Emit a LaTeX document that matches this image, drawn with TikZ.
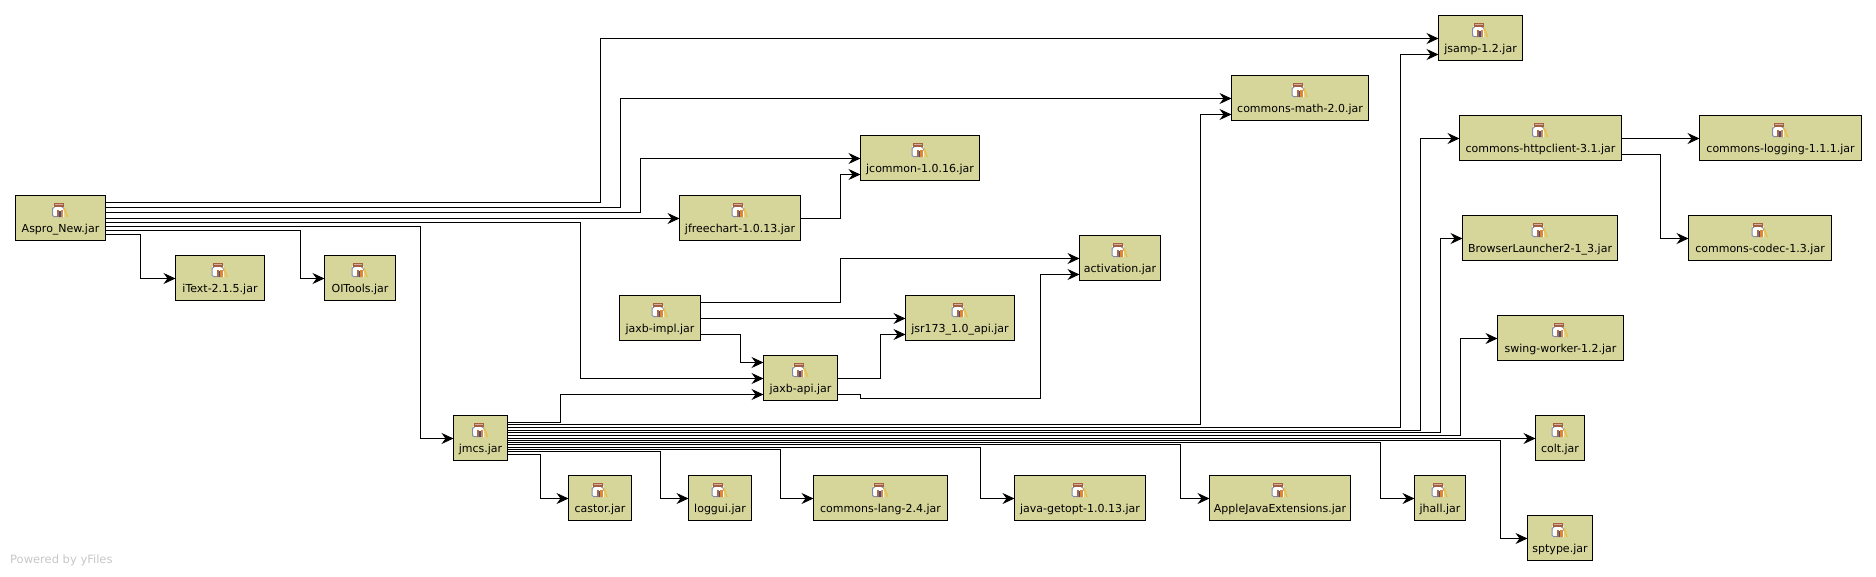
\documentclass[tikz,border=0pt]{standalone}
\usepackage{fontspec}
\setmainfont{DejaVu Sans}
\usetikzlibrary{arrows.meta}

\definecolor{jarfill}{RGB}{214,214,155}
\definecolor{jarlid}{RGB}{165,95,65}
\definecolor{jarglass}{RGB}{130,140,170}
\definecolor{bookone}{RGB}{185,105,45}
\definecolor{booktwo}{RGB}{50,80,170}
\definecolor{bookthree}{RGB}{225,135,50}
\definecolor{bookfour}{RGB}{235,190,80}

\tikzset{
    jarbox/.style={draw=black, line width=1pt, fill=jarfill, rectangle, inner sep=0pt, outer sep=0pt,
        minimum height=45pt, text height=37pt, text depth=8pt, font=\fontsize{11}{13}\selectfont},
    dep/.style={draw=black, line width=1pt, -{Stealth[length=12pt,width=11pt,inset=4pt]}},
    jaricon/.pic={
        \fill[white] (-8,10) rectangle (3.5,21.5);
        \draw[jarglass, line width=1pt] (-5.5,11) -- (-8,13) -- (-8,20) -- (-6.5,21) -- (2,21);
        \draw[jarglass, line width=1pt] (1,11) -- (3.5,13) -- (3.5,15);
        \fill[jarlid] (-7,7) rectangle (3,11);
        \fill[jarlid!50!white] (-6,8) rectangle (2,9);
        \fill[bookone] (-3.5,14) rectangle (-1.5,21);
        \fill[booktwo] (-1.5,15) rectangle (0,21);
        \fill[bookthree] (0,14) rectangle (2.5,21);
        \fill[bookfour] (3,12) -- (4.5,12) -- (8,21.5) -- (6,21.5) -- cycle;
    }
}

\begin{document}
\begin{tikzpicture}[x=1pt, y=-1pt]
    \useasboundingbox (0,0) rectangle (1876,576);

    % Upper nodes
    \node[jarbox, minimum width=90pt] (aspro) at (60.5,218) {Aspro\_New.jar};
    \node[jarbox, minimum width=89pt] (itext) at (220,278) {iText-2.1.5.jar};
    \node[jarbox, minimum width=71pt] (oitools) at (360,278) {OITools.jar};
    \node[jarbox, minimum width=121pt] (jfreechart) at (740,218) {jfreechart-1.0.13.jar};
    \node[jarbox, minimum width=119pt] (jcommon) at (920,158) {jcommon-1.0.16.jar};
    \node[jarbox, minimum width=137pt] (math) at (1300,98) {commons-math-2.0.jar};
    \node[jarbox, minimum width=84pt] (jsamp) at (1480.5,38) {jsamp-1.2.jar};
    \node[jarbox, minimum width=162pt] (httpclient) at (1540.5,138) {commons-httpclient-3.1.jar};
    \node[jarbox, minimum width=162pt] (logging) at (1780.5,138) {commons-logging-1.1.1.jar};
    \node[jarbox, minimum width=143pt] (codec) at (1760,238) {commons-codec-1.3.jar};
    \node[jarbox, minimum width=155pt] (browser) at (1540,238) {BrowserLauncher2-1\_3.jar};
    \node[jarbox, minimum width=126pt] (swing) at (1560.5,338) {swing-worker-1.2.jar};

    % Middle nodes
    \node[jarbox, minimum width=81pt] (activation) at (1120,258) {activation.jar};
    \node[jarbox, minimum width=81pt] (impl) at (660,318) {jaxb-impl.jar};
    \node[jarbox, minimum width=74pt] (api) at (800.5,378) {jaxb-api.jar};
    \node[jarbox, minimum width=109pt] (jsr) at (960,318) {jsr173\_1.0\_api.jar};

    % Lower nodes
    \node[jarbox, minimum width=54pt] (jmcs) at (480.5,438) {jmcs.jar};
    \node[jarbox, minimum width=49pt] (colt) at (1560,438) {colt.jar};
    \node[jarbox, minimum width=63pt] (castor) at (600,498) {castor.jar};
    \node[jarbox, minimum width=63pt] (loggui) at (720,498) {loggui.jar};
    \node[jarbox, minimum width=134pt] (lang) at (880.5,498) {commons-lang-2.4.jar};
    \node[jarbox, minimum width=131pt] (getopt) at (1080,498) {java-getopt-1.0.13.jar};
    \node[jarbox, minimum width=141pt] (apple) at (1280,498) {AppleJavaExtensions.jar};
    \node[jarbox, minimum width=51pt] (jhall) at (1440,498) {jhall.jar};
    \node[jarbox, minimum width=65pt] (sptype) at (1560,538) {sptype.jar};

    % Jar icons
    \foreach \n in {aspro,itext,oitools,jfreechart,jcommon,math,jsamp,httpclient,logging,codec,browser,swing,
        activation,impl,api,jsr,jmcs,colt,castor,loggui,lang,getopt,apple,jhall,sptype}
        \pic at (\n.north) {jaricon};

    % Aspro_New edges
    \draw[dep] (aspro.east |- 0,202.5) -| (600.5,38.5) -- (jsamp.west |- 0,38.5);
    \draw[dep] (aspro.east |- 0,207.5) -| (620.5,98.5) -- (math.west |- 0,98.5);
    \draw[dep] (aspro.east |- 0,212.5) -| (640.5,158.5) -- (jcommon.west |- 0,158.5);
    \draw[dep] (aspro.east |- 0,218.5) -- (jfreechart.west |- 0,218.5);
    \draw[dep] (aspro.east |- 0,222.5) -| (580.5,378.5) -- (api.west |- 0,378.5);
    \draw[dep] (aspro.east |- 0,226.5) -| (420.5,438.5) -- (jmcs.west |- 0,438.5);
    \draw[dep] (aspro.east |- 0,230.5) -| (300.5,278.5) -- (oitools.west |- 0,278.5);
    \draw[dep] (aspro.east |- 0,234.5) -| (140.5,278.5) -- (itext.west |- 0,278.5);

    % jfreechart and jaxb edges
    \draw[dep] (jfreechart.east |- 0,218.5) -| (840.5,174.5) -- (jcommon.west |- 0,174.5);
    \draw[dep] (impl.east |- 0,302.5) -| (840.5,258.5) -- (activation.west |- 0,258.5);
    \draw[dep] (impl.east |- 0,318.5) -- (jsr.west |- 0,318.5);
    \draw[dep] (impl.east |- 0,334.5) -| (740.5,362.5) -- (api.west |- 0,362.5);
    \draw[dep] (api.east |- 0,378.5) -| (880.5,334.5) -- (jsr.west |- 0,334.5);
    \draw[dep] (api.east |- 0,394.5) -| (860.5,398.5) -| (1040.5,274.5) -- (activation.west |- 0,274.5);

    % jmcs edges
    \draw[dep] (jmcs.east |- 0,422.5) -| (560.5,394.5) -- (api.west |- 0,394.5);
    \draw[dep] (jmcs.east |- 0,424.5) -| (1200.5,114.5) -- (math.west |- 0,114.5);
    \draw[dep] (jmcs.east |- 0,427.5) -| (1400.5,54.5) -- (jsamp.west |- 0,54.5);
    \draw[dep] (jmcs.east |- 0,430.5) -| (1420.5,138.5) -- (httpclient.west |- 0,138.5);
    \draw[dep] (jmcs.east |- 0,432.5) -| (1440.5,238.5) -- (browser.west |- 0,238.5);
    \draw[dep] (jmcs.east |- 0,435.5) -| (1460.5,338.5) -- (swing.west |- 0,338.5);
    \draw[dep] (jmcs.east |- 0,438.5) -- (colt.west |- 0,438.5);
    \draw[dep] (jmcs.east |- 0,440.5) -| (1500.5,538.5) -- (sptype.west |- 0,538.5);
    \draw[dep] (jmcs.east |- 0,442.5) -| (1380.5,498.5) -- (jhall.west |- 0,498.5);
    \draw[dep] (jmcs.east |- 0,444.5) -| (1180.5,498.5) -- (apple.west |- 0,498.5);
    \draw[dep] (jmcs.east |- 0,447.5) -| (980.5,498.5) -- (getopt.west |- 0,498.5);
    \draw[dep] (jmcs.east |- 0,449.5) -| (780.5,498.5) -- (lang.west |- 0,498.5);
    \draw[dep] (jmcs.east |- 0,451.5) -| (660.5,498.5) -- (loggui.west |- 0,498.5);
    \draw[dep] (jmcs.east |- 0,454.5) -| (540.5,498.5) -- (castor.west |- 0,498.5);

    % httpclient edges
    \draw[dep] (httpclient.east |- 0,138.5) -- (logging.west |- 0,138.5);
    \draw[dep] (httpclient.east |- 0,154.5) -| (1660.5,238.5) -- (codec.west |- 0,238.5);

    \node[anchor=base west, inner sep=0pt, text=black!22, font=\fontsize{11.5}{13}\selectfont] (powered) at (10,563) {Powered by yFiles};
\end{tikzpicture}
\end{document}
